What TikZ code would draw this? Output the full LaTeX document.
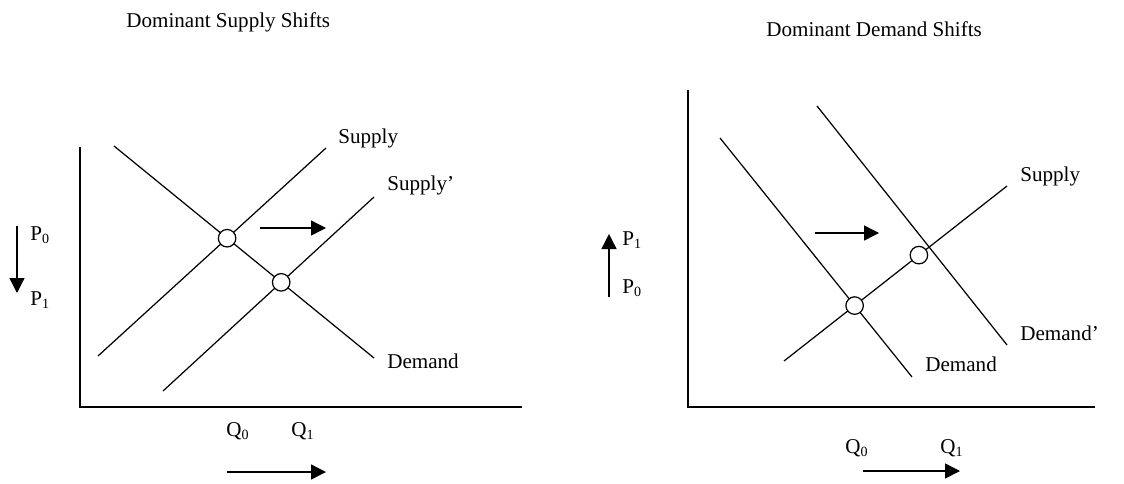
\documentclass[tikz,border=0pt]{standalone}
\usepackage{fontspec}
\setmainfont{Liberation Serif}
\usetikzlibrary{arrows.meta, calc, intersections}

\begin{document}
\begin{tikzpicture}[
    x=0.02cm, y=-0.02cm,
    every node/.style={font=\fontsize{12}{14}\selectfont, inner sep=0pt},
    lbl/.style={anchor=base west},
    curve/.style={line width=0.7pt},
    axis/.style={line width=1.1pt},
    eq/.style={circle, draw, fill=white, line width=0.7pt, minimum size=0.35cm},
    arr/.style={-{Triangle[length=0.3cm, width=0.3cm]}, line width=0.8pt},
]
\useasboundingbox (0,0) rectangle (1124,483);

% Dominant supply shifts
\node[lbl] (tS) at (126,28) {Dominant Supply Shifts};
\coordinate (Ltop) at (80,147);
\coordinate (Lorg) at (80,407);
\coordinate (Lend) at (522,407);
\draw[axis] (Ltop) -- (Lorg) -- (Lend);

\coordinate (LD0) at (114,146);
\coordinate (LD1) at (374,358);
\coordinate (LS0) at (98,356);
\coordinate (LS1) at (326,148);
\coordinate (LT0) at (163,391);
\coordinate (LT1) at (374,197);
\draw[curve, name path=LD] (LD0) -- (LD1);
\draw[curve, name path=LS] (LS0) -- (LS1);
\draw[curve, name path=LT] (LT0) -- (LT1);
\path[name intersections={of=LD and LS, by=Le0}];
\path[name intersections={of=LD and LT, by=Le1}];
\node[eq] (Lq0) at (Le0) {};
\node[eq] (Lq1) at (Le1) {};

\node[lbl] (lSup) at (338,143) {Supply};
\node[lbl] (lSupP) at (387,190) {Supply'};
\node[lbl] (lDem) at (387,368) {Demand};

\coordinate (Lm0) at (260,228);
\coordinate (Lm1) at (326,228);
\draw[arr] (Lm0) -- (Lm1);

\coordinate (Lp0) at (17,226);
\coordinate (Lp1) at (17,293);
\draw[arr] (Lp0) -- (Lp1);
\node[lbl] (LP0) at (30,240) {P\textsubscript{0}};
\node[lbl] (LP1) at (30,305) {P\textsubscript{1}};

\node[lbl] (LQ0) at (226,436) {Q\textsubscript{0}};
\node[lbl] (LQ1) at (291,436) {Q\textsubscript{1}};
\coordinate (Lb0) at (227,472);
\coordinate (Lb1) at (326,472);
\draw[arr] (Lb0) -- (Lb1);

% Dominant demand shifts
\node[lbl] (tD) at (766,37) {Dominant Demand Shifts};
\coordinate (Rtop) at (688,90);
\coordinate (Rorg) at (688,407);
\coordinate (Rend) at (1095,407);
\draw[axis] (Rtop) -- (Rorg) -- (Rend);

\coordinate (RD0) at (720,138);
\coordinate (RD1) at (912,377);
\coordinate (RE0) at (817,106);
\coordinate (RE1) at (1007,345);
\coordinate (RS0) at (784,361);
\coordinate (RS1) at (1007,186);
\draw[curve, name path=RD] (RD0) -- (RD1);
\draw[curve] (RE0) -- (RE1);
\draw[curve, name path=RS] (RS0) -- (RS1);
\path[name intersections={of=RD and RS, by=Re0}];
\node[eq] (Rq0) at (Re0) {};
\node[eq] (Rq1) at ($(RS0)!0.605!(RS1)$) {};

\node[lbl] (rSup) at (1020,181) {Supply};
\node[lbl] (rDemP) at (1020,340) {Demand'};
\node[lbl] (rDem) at (925,371) {Demand};

\coordinate (Rm0) at (815,233);
\coordinate (Rm1) at (879,233);
\draw[arr] (Rm0) -- (Rm1);

\coordinate (Rp0) at (609,297);
\coordinate (Rp1) at (609,234);
\draw[arr] (Rp0) -- (Rp1);
\node[lbl] (RP1) at (622,245) {P\textsubscript{1}};
\node[lbl] (RP0) at (622,293) {P\textsubscript{0}};

\node[lbl] (RQ0) at (845,453) {Q\textsubscript{0}};
\node[lbl] (RQ1) at (940,453) {Q\textsubscript{1}};
\coordinate (Rb0) at (863,471);
\coordinate (Rb1) at (960,471);
\draw[arr] (Rb0) -- (Rb1);

\end{tikzpicture}
\end{document}
